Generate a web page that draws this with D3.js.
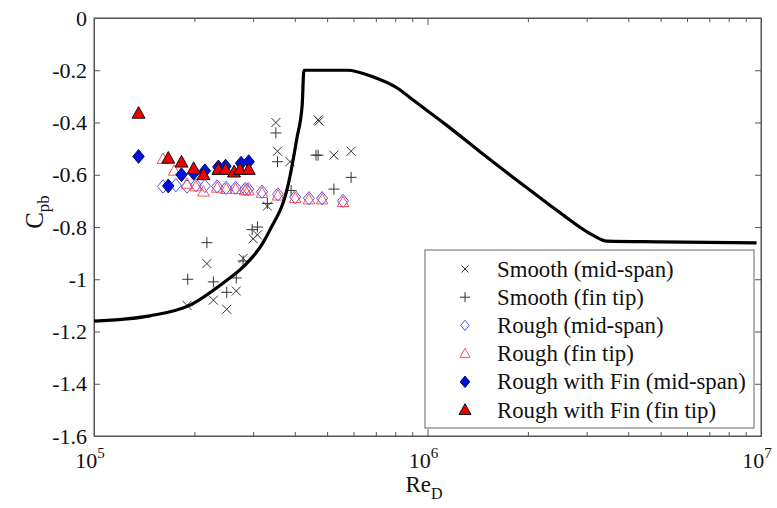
<!DOCTYPE html>
<html>
<head>
<meta charset="utf-8">
<script src="https://cdn.jsdelivr.net/npm/d3@7"></script>
<style>
  body { margin: 0; background: #fff; }
  svg text { font-family: "Liberation Serif", "Times New Roman", serif; }
</style>
</head>
<body>
<svg id="chart" width="777" height="508"></svg>
<script>
// reference curve (Re, Cpb)
const curveRe = [1e5, 1.47e5, 1.94e5, 2.44e5, 2.8e5, 3.21e5, 3.37e5, 3.82e5, 4.06e5, 4.21e5, 4.26e5,
  5.74e5, 6.88e5, 8.11e5, 9.05e5, 1.14e6, 1.44e6, 1.99e6, 2.5e6, 3.13e6, 3.45e6, 4.98e6, 9.7e6];
const curveCp = [-1.16, -1.14, -1.099, -1.014, -0.953, -0.861, -0.811, -0.639, -0.459, -0.333, -0.2,
  -0.2, -0.226, -0.268, -0.314, -0.41, -0.513, -0.651, -0.746, -0.831, -0.854, -0.857, -0.861];

const smoothMidRe = [1.9e5, 2.18e5, 2.28e5, 2.5e5, 2.67e5, 2.8e5, 3.0e5, 3.09e5, 3.31e5, 3.51e5, 3.55e5, 3.87e5, 4.7e5, 4.73e5, 5.24e5, 5.9e5];
const smoothMidCp = [-1.10, -0.94, -1.08, -1.115, -1.045, -0.92, -0.845, -0.83, -0.72, -0.40, -0.51, -0.55, -0.39, -0.395, -0.525, -0.51];

const smoothTipRe = [1.91e5, 2.18e5, 2.28e5, 2.5e5, 2.67e5, 2.8e5, 2.98e5, 3.09e5, 3.31e5, 3.51e5, 3.55e5, 3.9e5, 4.63e5, 4.7e5, 5.24e5, 5.9e5];
const smoothTipCp = [-1.00, -0.86, -1.01, -1.05, -0.995, -0.93, -0.81, -0.80, -0.71, -0.44, -0.55, -0.66, -0.525, -0.525, -0.655, -0.61];

const roughMidRe = [1.61e5, 1.76e5, 1.9e5, 2.02e5, 2.15e5, 2.34e5, 2.49e5, 2.66e5, 2.84e5, 2.9e5, 3.19e5, 3.56e5, 4.01e5, 4.41e5, 4.83e5, 5.58e5];
const roughMidCp = [-0.645, -0.64, -0.645, -0.64, -0.643, -0.645, -0.65, -0.65, -0.655, -0.655, -0.665, -0.675, -0.685, -0.69, -0.69, -0.70];

const roughTipRe = [1.61e5, 1.74e5, 1.9e5, 2.02e5, 2.13e5, 2.34e5, 2.49e5, 2.66e5, 2.84e5, 2.9e5, 3.19e5, 3.56e5, 4.01e5, 4.41e5, 4.83e5, 5.58e5];
const roughTipCp = [-0.54, -0.585, -0.635, -0.645, -0.665, -0.65, -0.655, -0.655, -0.66, -0.66, -0.67, -0.68, -0.69, -0.695, -0.695, -0.705];

const finMidRe = [1.36e5, 1.67e5, 1.83e5, 1.99e5, 2.15e5, 2.36e5, 2.48e5, 2.76e5, 2.91e5];
const finMidCp = [-0.53, -0.643, -0.60, -0.594, -0.585, -0.57, -0.567, -0.556, -0.55];

const finTipRe = [1.36e5, 1.67e5, 1.83e5, 1.99e5, 2.13e5, 2.36e5, 2.48e5, 2.63e5, 2.74e5, 2.91e5];
const finTipCp = [-0.365, -0.537, -0.552, -0.577, -0.60, -0.58, -0.58, -0.59, -0.58, -0.58];

const yTicks = [0, -0.2, -0.4, -0.6, -0.8, -1, -1.2, -1.4, -1.6];
const yTickLabels = ["0", "-0.2", "-0.4", "-0.6", "-0.8", "-1", "-1.2", "-1.4", "-1.6"];
const xMajor = [1e5, 1e6, 1e7];
const xMajorExp = ["5", "6", "7"];
const xMinor = [2e5, 3e5, 4e5, 5e5, 6e5, 7e5, 8e5, 9e5, 2e6, 3e6, 4e6, 5e6, 6e6, 7e6, 8e6, 9e6];

const legendLabels = ["Smooth (mid-span)", "Smooth (fin tip)", "Rough (mid-span)", "Rough (fin tip)",
  "Rough with Fin (mid-span)", "Rough with Fin (fin tip)"];

const mLeft = 94, mRight = 761, mTop = 18, mBottom = 436;

const svg = d3.select("#chart");
const x = d3.scaleLog().domain([1e5, 1e7]).range([mLeft, mRight]);
const y = d3.scaleLinear().domain([-1.6, 0]).range([mBottom, mTop]);

const zip = (a, b) => a.map((v, i) => [v, b[i]]);

// marker shapes
const shapes = {
  cross: (s) => `M${-s},${-s}L${s},${s}M${-s},${s}L${s},${-s}`,
  plus: (s) => `M${-s},0L${s},0M0,${-s}L0,${s}`,
  diamond: (s) => `M0,${-s * 1.15}L${s * 0.95},0L0,${s * 1.15}L${-s * 0.95},0Z`,
  triangle: (s) => `M0,${-s * 1.05}L${s},${s * 0.75}L${-s},${s * 0.75}Z`
};

const series = [
  { data: zip(smoothMidRe, smoothMidCp), shape: "cross", size: 4.5, fill: "none", stroke: "#333", sw: 1, ls: 3.5 },
  { data: zip(smoothTipRe, smoothTipCp), shape: "plus", size: 5.5, fill: "none", stroke: "#333", sw: 1, ls: 5 },
  { data: zip(roughMidRe, roughMidCp), shape: "diamond", size: 5.8, fill: "none", stroke: "#5050ff", sw: 1, ls: 4.5 },
  { data: zip(roughTipRe, roughTipCp), shape: "triangle", size: 5.8, fill: "none", stroke: "#ff5058", sw: 1, ls: 5 },
  { data: zip(finMidRe, finMidCp), shape: "diamond", size: 6, fill: "#0010e0", stroke: "#000a60", sw: 1, ls: 5 },
  { data: zip(finTipRe, finTipCp), shape: "triangle", size: 6.5, fill: "#ee0000", stroke: "#111", sw: 1, ls: 6 }
];

const frame = "#555";

// axes with inward ticks
svg.append("g").attr("transform", `translate(0,${mBottom})`)
  .call(d3.axisBottom(x).tickValues(xMajor).tickFormat("").tickSizeInner(-7).tickSizeOuter(0));
svg.append("g").attr("transform", `translate(0,${mBottom})`)
  .call(d3.axisBottom(x).tickValues(xMinor).tickFormat("").tickSizeInner(-4).tickSizeOuter(0));
svg.append("g").attr("transform", `translate(0,${mTop})`)
  .call(d3.axisTop(x).tickValues(xMajor).tickFormat("").tickSizeInner(-7).tickSizeOuter(0));
svg.append("g").attr("transform", `translate(0,${mTop})`)
  .call(d3.axisTop(x).tickValues(xMinor).tickFormat("").tickSizeInner(-4).tickSizeOuter(0));
svg.append("g").attr("class", "yaxis").attr("transform", `translate(${mLeft},0)`)
  .call(d3.axisLeft(y).tickValues(yTicks).tickFormat((d, i) => yTickLabels[i]).tickSizeInner(-6).tickSizeOuter(0).tickPadding(7));
svg.append("g").attr("transform", `translate(${mRight},0)`)
  .call(d3.axisRight(y).tickValues(yTicks).tickFormat("").tickSizeInner(-6).tickSizeOuter(0));

svg.selectAll(".domain").attr("stroke", frame);
svg.selectAll(".tick line").attr("stroke", frame);
svg.select(".yaxis").selectAll("text")
  .attr("font-size", 22).attr("fill", "#111");

svg.append("rect").attr("x", mLeft).attr("y", mTop).attr("width", mRight - mLeft).attr("height", mBottom - mTop)
  .attr("fill", "none").attr("stroke", frame).attr("stroke-width", 1);

// x tick labels 10^n
const xl = svg.append("g").selectAll("text").data(xMajor).enter().append("text")
  .attr("x", (d) => x(d) - 4).attr("y", mBottom + 32)
  .attr("text-anchor", "middle").attr("font-size", 22).attr("fill", "#111");
xl.append("tspan").text("10");
xl.append("tspan").attr("dy", -10).attr("font-size", 15).text((d, i) => xMajorExp[i]);

// axis labels
const xlab = svg.append("text").attr("x", 424).attr("y", 492).attr("text-anchor", "middle")
  .attr("font-size", 23).attr("fill", "#111");
xlab.append("tspan").text("Re");
xlab.append("tspan").attr("dy", 7).attr("font-size", 16).text("D");

const ylab = svg.append("text").attr("transform", "translate(43,212) rotate(-90)")
  .attr("text-anchor", "middle").attr("font-size", 25).attr("fill", "#111");
ylab.append("tspan").text("C");
ylab.append("tspan").attr("dy", 6).attr("font-size", 17).text("pb");

// scatter series
series.forEach((s) => {
  svg.append("g").selectAll("path").data(s.data).enter().append("path")
    .attr("transform", (d) => `translate(${x(d[0])},${y(d[1])})`)
    .attr("d", shapes[s.shape](s.size))
    .attr("fill", s.fill).attr("stroke", s.stroke).attr("stroke-width", s.sw);
});

// curve
const line = d3.line().x((d) => x(d[0])).y((d) => y(d[1])).curve(d3.curveMonotoneX);
svg.append("path").datum(zip(curveRe, curveCp)).attr("d", line)
  .attr("fill", "none").attr("stroke", "#000").attr("stroke-width", 3.2).attr("stroke-linejoin", "round");

// legend
const lg = svg.append("g");
lg.append("rect").attr("x", 425).attr("y", 250).attr("width", 329).attr("height", 178)
  .attr("fill", "#fff").attr("stroke", "#666").attr("stroke-width", 1);
series.forEach((s, i) => {
  const cy = 269 + i * 28.2;
  lg.append("path").attr("transform", `translate(465,${cy})`)
    .attr("d", shapes[s.shape](s.ls))
    .attr("fill", s.fill).attr("stroke", s.stroke).attr("stroke-width", s.sw);
  lg.append("text").attr("x", 497).attr("y", cy).attr("dy", "0.33em")
    .attr("font-size", 22.8).attr("fill", "#111").text(legendLabels[i]);
});
</script>
</body>
</html>
